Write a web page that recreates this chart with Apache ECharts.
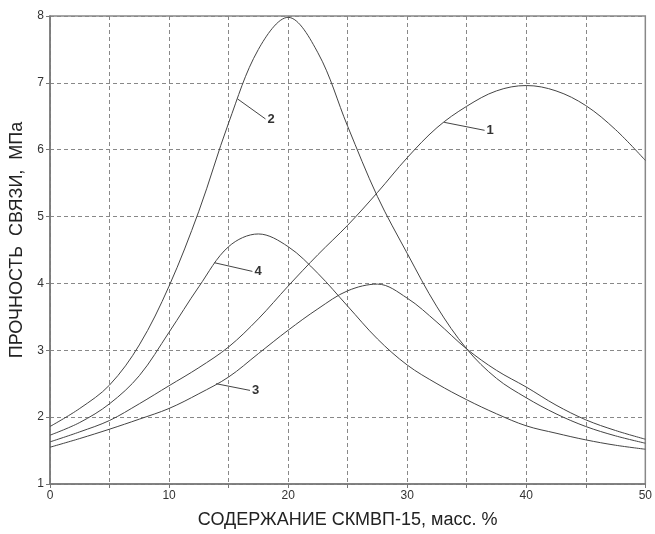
<!DOCTYPE html>
<html>
<head>
<meta charset="utf-8">
<script src="https://cdn.jsdelivr.net/npm/echarts@6/dist/echarts.min.js"></script>
<style>
html,body{margin:0;padding:0;background:#fff;}
#chart{width:655px;height:534px;}
</style>
</head>
<body>
<div id="chart"></div>
<script>
// ---- data ----
var xValues = [0, 2.5, 5, 7.5, 10, 12.5, 15, 17.5, 20, 22.5, 25, 27.5, 30, 32.5, 35, 37.5, 40, 42.5, 45, 47.5, 50];
var curve1 = [1.63, 1.78, 1.95, 2.2, 2.47, 2.74, 3.05, 3.47, 3.96, 4.43, 4.87, 5.36, 5.88, 6.33, 6.65, 6.88, 6.96, 6.88, 6.66, 6.3, 5.84];
var curve2 = [1.86, 2.13, 2.48, 3.08, 3.96, 5.08, 6.4, 7.5, 7.98, 7.45, 6.35, 5.3, 4.45, 3.65, 3.02, 2.58, 2.29, 2.05, 1.86, 1.72, 1.61];
var curve3 = [1.55, 1.68, 1.82, 1.97, 2.13, 2.35, 2.6, 2.95, 3.3, 3.62, 3.89, 3.99, 3.78, 3.42, 3.02, 2.7, 2.45, 2.18, 1.96, 1.8, 1.67];
var curve4 = [1.73, 1.92, 2.2, 2.62, 3.27, 3.95, 4.55, 4.74, 4.55, 4.15, 3.66, 3.17, 2.78, 2.5, 2.26, 2.05, 1.87, 1.76, 1.66, 1.58, 1.52];
var curveNames = ['1', '2', '3', '4'];
// label pointers: [xStart, yStart, xEnd, yEnd]
var pointer1 = [33.1, 6.41, 36.5, 6.29];
var pointer2 = [15.75, 6.76, 18.1, 6.46];
var pointer3 = [13.95, 2.5, 16.8, 2.4];
var pointer4 = [13.8, 4.31, 17.0, 4.18];
var xTickLabels = [0, 10, 20, 30, 40, 50];
var yTickLabels = [1, 2, 3, 4, 5, 6, 7, 8];
var xTitle = 'СОДЕРЖАНИЕ СКМВП-15, масс. %';
var yTitle = 'ПРОЧНОСТЬ  СВЯЗИ,  МПа';

function pairs(ys) { return xValues.map(function (x, i) { return [x, ys[i]]; }); }

var curves = [curve1, curve2, curve3, curve4];
var pointers = [pointer1, pointer2, pointer3, pointer4];
var series = [];
curves.forEach(function (c) {
  series.push({
    type: 'line', data: pairs(c), smooth: 0.35, showSymbol: false, symbol: 'none',
    lineStyle: { color: '#444', width: 1 }, silent: true, z: 3
  });
});
pointers.forEach(function (p, i) {
  series.push({
    type: 'line', data: [[p[0], p[1]], [p[2], p[3]]], showSymbol: false, symbol: 'none',
    lineStyle: { color: '#444', width: 1 }, silent: true, z: 3,
    endLabel: { show: true, formatter: curveNames[i], color: '#333', fontSize: 13, fontWeight: 'bold', fontFamily: 'Liberation Sans, Arial, sans-serif', distance: 2 }
  });
});

var chart = echarts.init(document.getElementById('chart'), null, { renderer: 'canvas' });
chart.setOption({
  animation: false,
  backgroundColor: '#fff',
  grid: { left: 48, right: 3, top: 16, bottom: 45, show: true, borderColor: '#888', borderWidth: 1.5 },
  xAxis: {
    type: 'value', min: 0, max: 50, interval: 5,
    name: xTitle, nameLocation: 'middle', nameGap: 27,
    nameTextStyle: { fontSize: 18, color: '#222', fontFamily: 'Liberation Sans, Arial, sans-serif' },
    axisLine: { show: true, lineStyle: { color: '#777', width: 1.5 } },
    axisTick: { show: true, length: 4, inside: false, lineStyle: { color: '#777' } },
    axisLabel: {
      color: '#333', fontSize: 12, margin: 6, fontFamily: 'Liberation Sans Narrow, Liberation Sans, Arial, sans-serif',
      formatter: function (v) { return xTickLabels.indexOf(v) >= 0 ? String(v) : ''; }
    },
    splitLine: { show: true, lineStyle: { color: '#888', type: [4, 3], width: 1 } }
  },
  yAxis: {
    type: 'value', min: 1, max: 8, interval: 1,
    name: yTitle, nameLocation: 'middle', nameGap: 24, nameRotate: 90,
    nameTextStyle: { fontSize: 18, color: '#222', fontFamily: 'Liberation Sans, Arial, sans-serif', padding: [0, 0, 0, 20] },
    axisLine: { show: true, lineStyle: { color: '#777', width: 1.5 } },
    axisTick: { show: true, length: 4, lineStyle: { color: '#777' } },
    axisLabel: {
      color: '#333', fontSize: 12, margin: 6, fontFamily: 'Liberation Sans Narrow, Liberation Sans, Arial, sans-serif',
      formatter: function (v) { return yTickLabels.indexOf(v) >= 0 ? String(v) : ''; }
    },
    splitLine: { show: true, lineStyle: { color: '#888', type: [4, 3], width: 1 } }
  },
  series: series
});
</script>
</body>
</html>
